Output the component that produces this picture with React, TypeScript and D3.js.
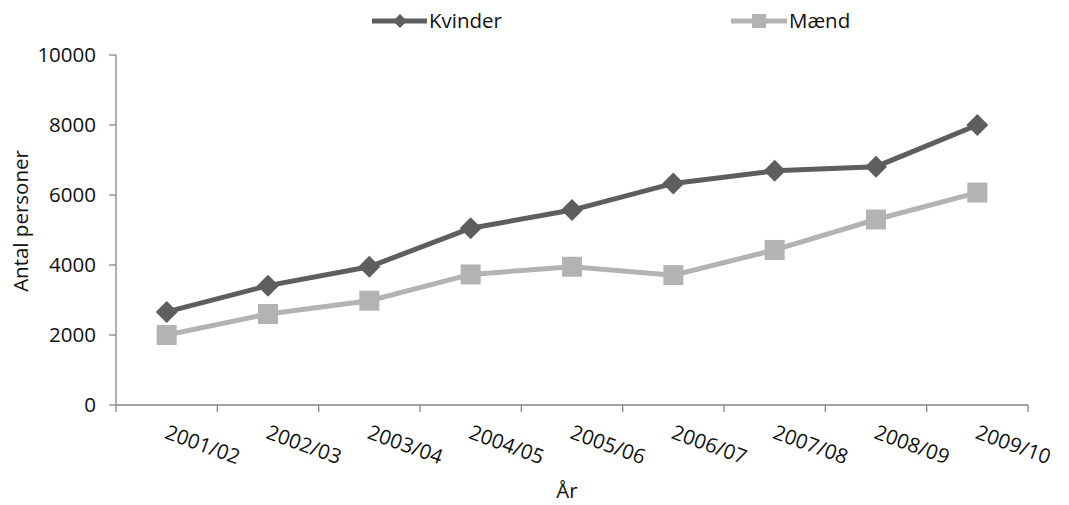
import React from "react";
import * as d3 from "d3";

const categories = ["2001/02","2002/03","2003/04","2004/05","2005/06","2006/07","2007/08","2008/09","2009/10"];
const kvinder = [2660, 3410, 3950, 5050, 5570, 6330, 6690, 6810, 8000];
const maend = [2000, 2600, 2980, 3730, 3950, 3710, 4430, 5300, 6070];
const yTicks = [0, 2000, 4000, 6000, 8000, 10000];

const W = 1069, H = 505;
const left = 116, right = 1028, top = 55, bottom = 405;
const font = "'Open Sans', sans-serif";
const fs = 20.5;

export default function App() {
  const x = d3.scaleBand<string>().domain(categories).range([left, right]);
  const y = d3.scaleLinear().domain([0, 10000]).range([bottom, top]);
  const cx = (c: string) => (x(c) as number) + x.bandwidth() / 2;
  const line = d3.line<number>().x((_, i) => cx(categories[i])).y(d => y(d));
  const dark = "#5e5e5e", light = "#b3b3b3", axis = "#868686";
  const diamond = (px: number, py: number, r = 11) =>
    `M${px},${py - r}L${px + r},${py}L${px},${py + r}L${px - r},${py}Z`;
  const boundaries = [...categories.map(c => x(c) as number), right];
  return (
    <svg width={W} height={H} style={{ position: "absolute", left: 0, top: 0, background: "#fff" }}>
      {/* axes */}
      <line x1={left} x2={left} y1={top} y2={bottom} stroke={axis} strokeWidth={1.3} />
      <line x1={left} x2={right} y1={bottom} y2={bottom} stroke={axis} strokeWidth={1.3} />
      {yTicks.map(t => (
        <g key={t}>
          <line x1={left - 7} x2={left} y1={y(t)} y2={y(t)} stroke={axis} strokeWidth={1.3} />
          <text x={96} y={y(t)} dy="0.36em" textAnchor="end" fontFamily={font} fontSize={fs} fill="#111">{t}</text>
        </g>
      ))}
      {boundaries.map((b, i) => (
        <line key={i} x1={b} x2={b} y1={bottom} y2={bottom + 7} stroke={axis} strokeWidth={1.3} />
      ))}
      {categories.map(c => (
        <text key={c} transform={`translate(${cx(c) - 3},${438}) rotate(20)`} fontFamily={font} fontSize={fs} fill="#111">{c}</text>
      ))}
      <text x={567} y={498} textAnchor="middle" fontFamily={font} fontSize={fs} fill="#111">År</text>
      <text transform={`translate(28,${221}) rotate(-90)`} textAnchor="middle" fontFamily={font} fontSize={fs} fill="#111">Antal personer</text>

      {/* series */}
      <path d={line(maend) || ""} fill="none" stroke={light} strokeWidth={5} />
      {maend.map((v, i) => (
        <rect key={i} x={cx(categories[i]) - 10} y={y(v) - 10} width={20} height={20} fill={light} />
      ))}
      <path d={line(kvinder) || ""} fill="none" stroke={dark} strokeWidth={5} />
      {kvinder.map((v, i) => (
        <path key={i} d={diamond(cx(categories[i]), y(v))} fill={dark} />
      ))}

      {/* legend */}
      <line x1={372} x2={427} y1={21} y2={21} stroke={dark} strokeWidth={5} />
      <path d={diamond(400, 21, 7)} fill={dark} />
      <text x={429} y={21} dy="0.36em" fontFamily={font} fontSize={fs} fill="#111">Kvinder</text>
      <line x1={731} x2={787} y1={21} y2={21} stroke={light} strokeWidth={5} />
      <rect x={752} y={14} width={14} height={14} fill={light} />
      <text x={789} y={21} dy="0.36em" fontFamily={font} fontSize={fs} fill="#111">Mænd</text>
    </svg>
  );
}
